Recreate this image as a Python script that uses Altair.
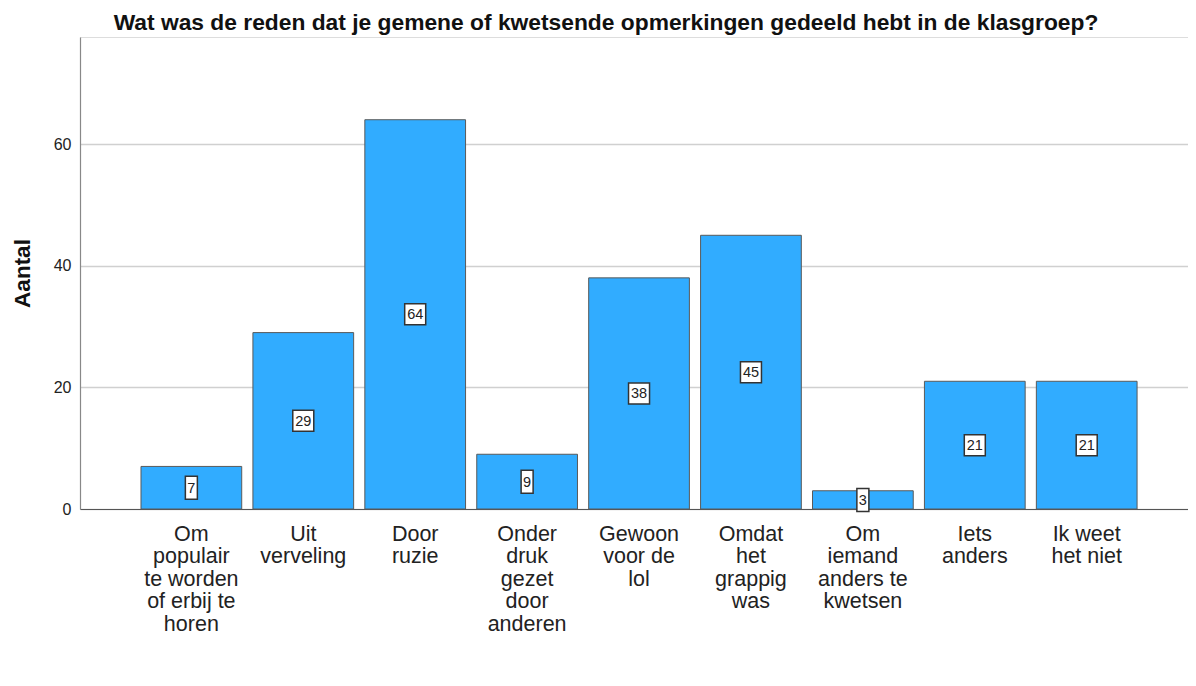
import altair as alt
import pandas as pd

categories = [
    "Om\npopulair\nte worden\nof erbij te\nhoren",
    "Uit\nverveling",
    "Door\nruzie",
    "Onder\ndruk\ngezet\ndoor\nanderen",
    "Gewoon\nvoor de\nlol",
    "Omdat\nhet\ngrappig\nwas",
    "Om\niemand\nanders te\nkwetsen",
    "Iets\nanders",
    "Ik weet\nhet niet",
]
counts = [7, 29, 64, 9, 38, 45, 3, 21, 21]
y_ticks = [0, 20, 40, 60]

df = pd.DataFrame({"cat": categories, "n": counts})

FONT = "Liberation Sans"
BAR = "#31acff"

x_enc = alt.X(
    "cat:N",
    sort=categories,
    scale=alt.Scale(paddingInner=0.1, paddingOuter=0.5, align=0.545),
    axis=alt.Axis(
        title=None,
        labelAngle=0,
        labelExpr="split(datum.label, '\\n')",
        labelFont=FONT,
        labelFontSize=21.5,
        labelLineHeight=22.5,
        labelColor="#222222",
        labelBaseline="top",
        labelPadding=14,
        labelLimit=200,
        ticks=False,
        domainColor="#555555",
        domainWidth=1.2,
        grid=False,
    ),
)

y_scale = alt.Scale(domain=[0, 77.6], nice=False)

bars = alt.Chart(df).mark_bar(
    color=BAR, stroke="#5a5a5a", strokeWidth=1
).encode(
    x=x_enc,
    y=alt.Y(
        "n:Q",
        scale=y_scale,
        axis=alt.Axis(
            values=y_ticks,
            title="Aantal",
            titleFont=FONT,
            titleFontSize=22.5,
            titleFontWeight="bold",
            titleColor="#111111",
            titleAngle=270,
            titleX=-58,
            titleY=236,
            titleBaseline="middle",
            titleAlign="center",
            labelFont=FONT,
            labelFontSize=16,
            labelColor="#222222",
            labelPadding=9,
            ticks=False,
            domainColor="#888888",
            domainWidth=1.2,
            grid=True,
            gridColor="#d0d0d0",
            gridWidth=1.5,
        ),
    ),
)

box_base = alt.Chart(df).transform_calculate(half="datum.n / 2")

box_small = box_base.transform_filter("datum.n < 10").mark_point(
    shape="M-0.3,-0.575L0.3,-0.575L0.3,0.575L-0.3,0.575Z",
    size=1600,
    filled=True,
    fill="white",
    stroke="#333333",
    strokeWidth=1.5,
    opacity=1,
).encode(x=alt.X("cat:N", sort=categories), y=alt.Y("half:Q", scale=y_scale))

box_big = box_base.transform_filter("datum.n >= 10").mark_point(
    shape="M-0.525,-0.525L0.525,-0.525L0.525,0.525L-0.525,0.525Z",
    size=1600,
    filled=True,
    fill="white",
    stroke="#333333",
    strokeWidth=1.5,
    opacity=1,
).encode(x=alt.X("cat:N", sort=categories), y=alt.Y("half:Q", scale=y_scale))

texts = box_base.mark_text(
    font=FONT, fontSize=14.5, color="#222222", baseline="middle", align="center", dy=1
).encode(
    x=alt.X("cat:N", sort=categories),
    y=alt.Y("half:Q", scale=y_scale),
    text="n:Q",
)

chart = (
    alt.layer(bars, box_small, box_big, texts)
    .properties(
        width=1108,
        height=472,
        autosize=alt.AutoSizeParams(type="none"),
        padding={"left": 72, "top": 29, "right": 0, "bottom": 170},
        title=alt.TitleParams(
            "Wat was de reden dat je gemene of kwetsende opmerkingen gedeeld hebt in de klasgroep?",
            font=FONT,
            fontSize=22.8,
            fontWeight="bold",
            color="#111111",
            anchor="middle",
            dx=-28,
            dy=3,
            offset=5,
        ),
    )
    .configure_view(stroke=None)
    .configure(background="white")
)

chart.save("out.html", embed_options={"renderer": "svg", "actions": False})
